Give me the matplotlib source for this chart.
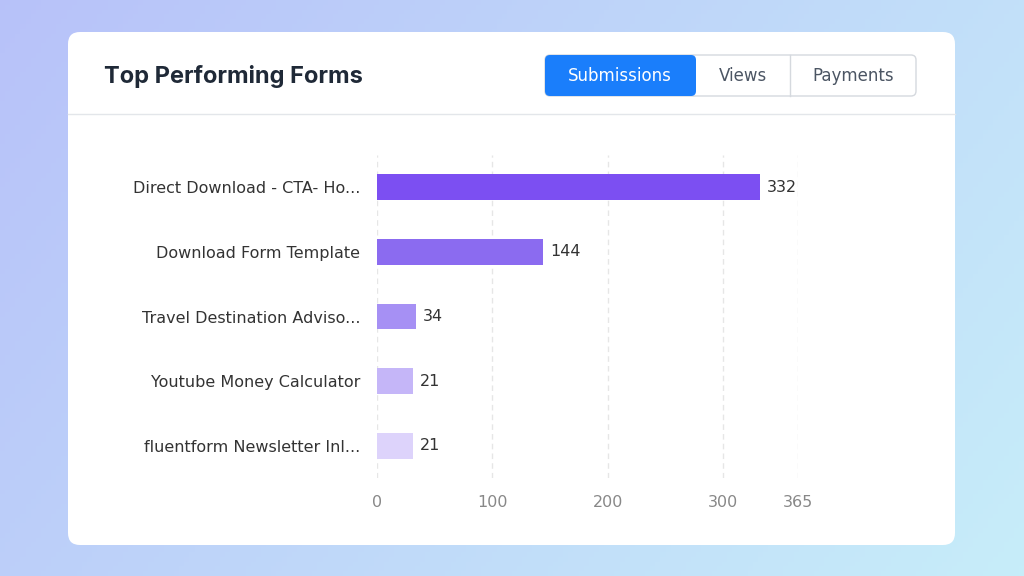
import numpy as np
import matplotlib.pyplot as plt
from matplotlib.patches import FancyBboxPatch

forms = ["Direct Download - CTA- Ho...", "Download Form Template",
         "Travel Destination Adviso...", "Youtube Money Calculator",
         "fluentform Newsletter Inl..."]
submissions = [332, 144, 34, 21, 21]
bar_colors = ["#7c4ff2", "#8b6bf0", "#a690f4", "#c5b6f8", "#ddd3fb"]
xticks = [0, 100, 200, 300, 365]
tabs = ["Submissions", "Views", "Payments"]

W, H = 1024, 576
fig = plt.figure(figsize=(W / 100, H / 100), dpi=100)

# background gradient
bg = fig.add_axes([0, 0, 1, 1])
xx, yy = np.meshgrid(np.linspace(0, 1, 200), np.linspace(0, 1, 120))
c1 = np.array([0.72, 0.76, 0.98])
c2 = np.array([0.78, 0.93, 0.98])
t = (xx * 0.7 + yy * 0.3)[..., None]
bg.imshow(c1 * (1 - t) + c2 * t, extent=[0, W, H, 0], aspect="auto")
bg.set_xlim(0, W)
bg.set_ylim(H, 0)
bg.axis("off")

# card
bg.add_patch(FancyBboxPatch((68, 32), 887, 513, boxstyle="round,pad=0,rounding_size=12",
                            fc="white", ec="none"))
bg.plot([68, 955], [114, 114], color="#e3e6ea", lw=1)
bg.text(104, 76, "Top Performing Forms", fontsize=17, fontweight="bold",
        color="#1f2937", va="center", family="Inter")

# tab buttons
bg.add_patch(FancyBboxPatch((545, 55), 371, 41, boxstyle="round,pad=0,rounding_size=5",
                            fc="white", ec="#d5d9de", lw=1))
bg.add_patch(FancyBboxPatch((545, 55), 151, 41, boxstyle="round,pad=0,rounding_size=5",
                            fc="#1a7efb", ec="none"))
bg.plot([790, 790], [55, 96], color="#d5d9de", lw=1)
for label, cx, col in zip(tabs, [620, 743, 853], ["white", "#4b5563", "#4b5563"]):
    bg.text(cx, 76, label, fontsize=12, color=col, ha="center", va="center")

# chart (small values get a minimum visible bar length, as in the original widget)
ax = fig.add_axes([377 / W, 1 - 478 / H, (798 - 377) / W, (478 - 155) / H])
ax.set_facecolor("none")
y = np.arange(len(forms))
shown = [max(v, 31) for v in submissions]
ax.barh(y, shown, height=0.4, color=bar_colors)
for yi, v, s in zip(y, submissions, shown):
    ax.text(s + 6, yi, str(v), va="center", fontsize=11.5, color="#333")
ax.set_xlim(0, 365)
ax.set_ylim(4.5, -0.5)
ax.set_xticks(xticks)
ax.set_yticks(y, forms)
ax.tick_params(axis="y", length=0, pad=12, labelsize=11.5, labelcolor="#333")
ax.tick_params(axis="x", length=0, pad=12, labelsize=11.5, labelcolor="#888")
ax.grid(axis="x", color="#e6e6e6", lw=1, ls=(0, (4, 3)))
ax.set_axisbelow(True)
for s in ax.spines.values():
    s.set_visible(False)

fig.savefig("out.png", dpi=100)
